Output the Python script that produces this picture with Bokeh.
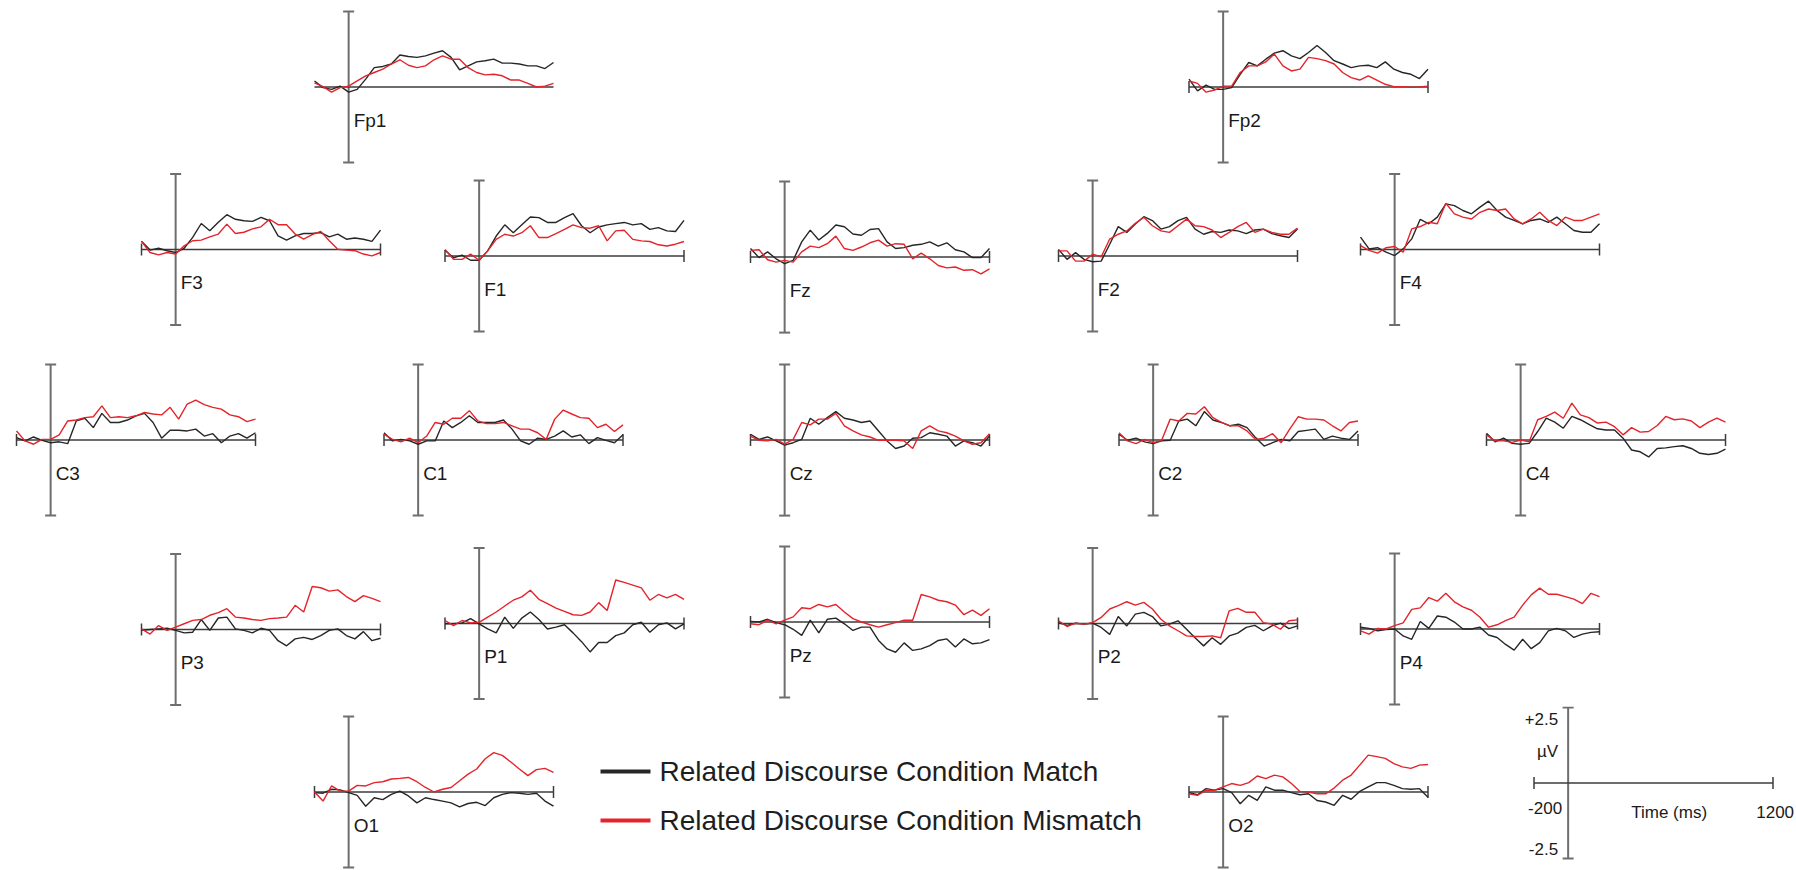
import math
from bokeh.plotting import figure
from bokeh.layouts import row, column
from bokeh.models import Spacer, Range1d
from bokeh.core.properties import value
from bokeh.embed import file_html
from bokeh.resources import INLINE

# ------------------------------------------------------------------ data
times_ms = [-200, -150, -100, -50, 0, 50, 100, 150, 200, 250, 300, 350, 400, 450,
            500, 550, 600, 650, 700, 750, 800, 850, 900, 950, 1000, 1050, 1100, 1150, 1200]

Fp1_match = [0.20, -0.02, -0.08, 0.03, -0.17, -0.08, 0.26, 0.64, 0.68, 0.76, 1.06, 1.01, 0.98, 1.03, 1.12, 1.20, 0.98, 0.57, 0.70, 0.83, 0.87, 0.92, 0.79, 0.79, 0.76, 0.70, 0.70, 0.61, 0.81]
Fp1_mismatch = [0.14, 0.01, -0.17, -0.02, 0.03, 0.20, 0.37, 0.48, 0.59, 0.76, 0.90, 0.72, 0.64, 0.70, 0.90, 1.03, 0.92, 0.92, 0.64, 0.48, 0.40, 0.42, 0.37, 0.23, 0.23, 0.12, 0.00, 0.03, 0.12]
Fp2_match = [0.26, -0.13, 0.06, -0.08, -0.08, -0.02, 0.42, 0.81, 0.70, 0.92, 1.12, 1.20, 1.03, 0.94, 1.14, 1.37, 1.14, 0.87, 0.76, 0.64, 0.70, 0.72, 0.64, 0.83, 0.59, 0.48, 0.42, 0.28, 0.59]
Fp2_mismatch = [0.20, 0.12, -0.17, -0.10, 0.03, 0.03, 0.48, 0.70, 0.70, 0.83, 1.09, 0.70, 0.53, 0.59, 0.98, 0.94, 0.87, 0.76, 0.48, 0.31, 0.23, 0.37, 0.23, 0.09, 0.01, 0.01, -0.01, 0.00, 0.03]
F3_match = [0.27, -0.02, 0.04, -0.04, -0.10, 0.04, 0.40, 0.86, 0.62, 0.90, 1.15, 1.00, 0.95, 0.93, 1.06, 0.95, 0.45, 0.31, 0.45, 0.53, 0.53, 0.56, 0.42, 0.51, 0.34, 0.38, 0.34, 0.27, 0.64]
F3_mismatch = [0.27, -0.10, -0.18, -0.10, -0.15, 0.12, 0.29, 0.31, 0.42, 0.51, 0.84, 0.53, 0.57, 0.68, 0.75, 1.00, 0.82, 0.82, 0.51, 0.34, 0.49, 0.60, 0.29, 0.01, -0.02, -0.04, -0.15, -0.21, -0.10]
F1_match = [0.19, -0.06, 0.03, -0.14, -0.14, 0.17, 0.66, 1.03, 0.77, 1.03, 1.29, 1.27, 1.11, 1.11, 1.27, 1.40, 1.00, 0.77, 0.96, 1.03, 1.07, 1.11, 1.03, 1.07, 0.88, 0.94, 0.83, 0.81, 1.18]
F1_mismatch = [0.22, -0.11, -0.11, 0.06, -0.14, 0.17, 0.55, 0.72, 0.66, 0.77, 1.00, 0.61, 0.61, 0.74, 0.88, 1.03, 0.94, 0.92, 1.00, 0.50, 0.83, 0.85, 0.55, 0.50, 0.48, 0.37, 0.33, 0.39, 0.48]
Fz_match = [0.28, -0.02, 0.17, -0.06, -0.22, -0.11, 0.50, 0.89, 0.56, 0.78, 1.06, 1.00, 0.76, 0.72, 0.91, 0.94, 0.50, 0.28, 0.31, 0.39, 0.42, 0.50, 0.36, 0.47, 0.24, 0.17, -0.02, -0.02, 0.28]
Fz_mismatch = [0.22, 0.24, -0.09, -0.17, -0.11, -0.17, 0.17, 0.36, 0.31, 0.44, 0.69, 0.28, 0.22, 0.33, 0.47, 0.56, 0.36, 0.44, 0.42, -0.06, 0.13, -0.06, -0.28, -0.36, -0.33, -0.44, -0.42, -0.56, -0.39]
F2_match = [0.22, -0.11, 0.11, -0.11, -0.19, -0.17, 0.39, 0.97, 0.78, 1.06, 1.30, 1.17, 0.89, 0.97, 1.17, 1.28, 0.89, 0.72, 0.81, 0.78, 0.86, 0.83, 0.74, 0.86, 0.89, 0.74, 0.67, 0.61, 0.89]
F2_mismatch = [0.17, 0.17, -0.17, -0.17, 0.06, -0.03, 0.56, 0.72, 0.83, 1.08, 1.28, 1.00, 0.83, 0.78, 1.00, 1.22, 1.00, 0.97, 0.86, 0.61, 0.78, 0.97, 1.11, 0.78, 0.89, 0.78, 0.72, 0.72, 0.92]
F4_match = [0.41, 0.02, 0.06, -0.09, -0.20, 0.02, 0.35, 1.00, 0.85, 1.07, 1.51, 1.45, 1.29, 1.18, 1.40, 1.60, 1.29, 1.07, 0.96, 0.85, 0.96, 1.01, 0.90, 1.07, 0.85, 0.63, 0.57, 0.57, 0.85]
F4_mismatch = [0.13, -0.03, -0.12, 0.06, 0.10, -0.09, 0.68, 0.76, 0.90, 0.85, 1.53, 1.18, 1.07, 1.01, 1.23, 1.34, 1.29, 1.34, 1.01, 0.85, 1.01, 1.23, 0.96, 0.79, 1.07, 0.96, 0.96, 1.07, 1.18]
C3_match = [0.08, -0.03, 0.10, -0.01, -0.09, -0.06, -0.12, 0.63, 0.72, 0.41, 0.88, 0.58, 0.58, 0.66, 0.80, 0.88, 0.58, 0.06, 0.32, 0.32, 0.30, 0.36, 0.13, 0.21, -0.09, 0.13, 0.21, 0.06, 0.24]
C3_mismatch = [0.30, -0.03, -0.14, 0.02, 0.02, 0.17, 0.63, 0.66, 0.74, 0.77, 1.13, 0.74, 0.77, 0.74, 0.80, 0.91, 0.86, 0.83, 1.08, 0.69, 1.19, 1.32, 1.17, 1.08, 1.02, 0.83, 0.77, 0.61, 0.69]
C1_match = [0.24, -0.03, 0.02, -0.03, -0.14, -0.03, -0.03, 0.63, 0.41, 0.58, 0.80, 0.58, 0.58, 0.58, 0.66, 0.36, -0.03, -0.14, 0.06, 0.02, 0.13, 0.30, 0.10, 0.17, -0.12, 0.08, -0.01, -0.09, 0.17]
C1_mismatch = [0.19, 0.02, -0.06, 0.06, -0.09, 0.13, 0.58, 0.52, 0.72, 0.72, 0.97, 0.63, 0.54, 0.54, 0.58, 0.47, 0.36, 0.36, 0.24, 0.02, 0.69, 0.99, 0.86, 0.74, 0.72, 0.41, 0.52, 0.28, 0.50]
Cz_match = [0.19, 0.02, 0.10, -0.03, -0.17, -0.09, 0.02, 0.72, 0.52, 0.74, 0.94, 0.72, 0.66, 0.58, 0.63, 0.30, -0.03, -0.28, -0.20, 0.06, 0.08, 0.24, 0.19, 0.13, -0.20, -0.03, -0.09, -0.20, 0.13]
Cz_mismatch = [0.13, -0.01, -0.03, 0.02, -0.14, 0.02, 0.58, 0.50, 0.69, 0.69, 0.88, 0.47, 0.30, 0.17, 0.10, -0.01, -0.01, -0.01, -0.03, -0.28, 0.30, 0.47, 0.30, 0.24, 0.13, -0.03, -0.14, -0.09, 0.21]
C2_match = [0.19, -0.01, 0.06, -0.06, -0.12, -0.03, -0.01, 0.63, 0.69, 0.47, 0.94, 0.66, 0.58, 0.47, 0.52, 0.41, 0.08, -0.20, -0.09, 0.02, -0.03, 0.28, 0.32, 0.36, 0.02, 0.13, 0.06, 0.02, 0.30]
C2_mismatch = [0.24, -0.03, -0.12, 0.02, -0.09, -0.01, 0.69, 0.63, 0.88, 0.86, 1.10, 0.74, 0.58, 0.47, 0.47, 0.30, 0.02, 0.06, 0.21, -0.09, 0.36, 0.77, 0.69, 0.69, 0.66, 0.47, 0.30, 0.58, 0.63]
C4_match = [0.22, -0.06, 0.06, -0.11, -0.14, -0.11, 0.28, 0.72, 0.59, 0.39, 0.78, 0.67, 0.52, 0.37, 0.33, 0.33, 0.06, -0.33, -0.39, -0.56, -0.28, -0.26, -0.22, -0.19, -0.28, -0.44, -0.48, -0.44, -0.30]
C4_mismatch = [0.17, -0.03, -0.03, -0.08, 0.00, -0.06, 0.67, 0.78, 0.92, 0.72, 1.22, 0.83, 0.74, 0.56, 0.59, 0.44, 0.17, 0.41, 0.26, 0.28, 0.48, 0.78, 0.67, 0.70, 0.63, 0.41, 0.59, 0.72, 0.59]
P3_match = [-0.03, 0.00, 0.02, 0.04, -0.03, -0.11, -0.09, 0.33, -0.03, 0.38, 0.41, 0.02, -0.03, -0.11, 0.04, -0.03, -0.37, -0.54, -0.31, -0.26, -0.33, -0.20, -0.03, 0.02, -0.20, -0.31, -0.07, -0.37, -0.29]
P3_mismatch = [0.02, -0.15, 0.13, -0.03, 0.08, 0.19, 0.30, 0.33, 0.47, 0.56, 0.69, 0.41, 0.38, 0.33, 0.30, 0.36, 0.38, 0.41, 0.80, 0.58, 1.42, 1.38, 1.27, 1.31, 1.09, 0.92, 1.12, 1.03, 0.92]
P1_match = [-0.01, -0.01, 0.02, 0.16, -0.01, -0.18, -0.31, 0.21, -0.16, 0.18, 0.38, 0.13, -0.18, -0.12, -0.04, -0.31, -0.60, -0.94, -0.63, -0.63, -0.40, -0.31, -0.04, 0.04, -0.29, -0.04, 0.02, -0.18, -0.01]
P1_mismatch = [0.10, -0.07, 0.10, 0.02, 0.04, 0.21, 0.38, 0.58, 0.77, 0.88, 1.10, 0.80, 0.66, 0.51, 0.40, 0.29, 0.27, 0.38, 0.69, 0.43, 1.44, 1.36, 1.27, 1.18, 0.77, 0.96, 0.85, 0.96, 0.80]
Pz_match = [0.02, 0.00, 0.09, -0.02, -0.09, -0.24, -0.44, 0.06, -0.36, 0.09, 0.13, -0.06, -0.28, -0.17, -0.17, -0.61, -0.89, -1.00, -0.69, -0.94, -0.89, -0.78, -0.61, -0.56, -0.83, -0.56, -0.72, -0.69, -0.58]
Pz_mismatch = [-0.06, -0.09, 0.06, -0.06, 0.06, 0.17, 0.47, 0.44, 0.58, 0.50, 0.58, 0.33, 0.11, 0.00, -0.09, -0.17, -0.09, -0.02, 0.06, 0.06, 0.91, 0.83, 0.72, 0.67, 0.56, 0.24, 0.39, 0.22, 0.44]
P2_match = [0.03, -0.06, 0.01, -0.02, 0.01, -0.13, -0.36, 0.23, -0.08, 0.31, 0.37, 0.23, -0.08, -0.02, 0.09, -0.19, -0.47, -0.74, -0.47, -0.69, -0.41, -0.32, -0.13, -0.06, -0.24, -0.08, 0.01, -0.17, -0.08]
P2_mismatch = [0.09, -0.10, 0.01, -0.02, 0.03, 0.20, 0.48, 0.59, 0.72, 0.61, 0.70, 0.48, 0.14, -0.08, -0.24, -0.41, -0.43, -0.43, -0.41, -0.47, 0.42, 0.50, 0.37, 0.37, 0.03, -0.02, -0.19, 0.09, 0.12]
P4_match = [0.06, 0.02, -0.06, -0.02, 0.00, -0.23, -0.34, 0.25, 0.02, 0.43, 0.39, 0.23, 0.00, 0.00, 0.06, -0.20, -0.28, -0.51, -0.70, -0.34, -0.65, -0.45, -0.06, 0.02, -0.06, -0.28, -0.17, -0.11, -0.09]
P4_mismatch = [-0.06, -0.17, 0.02, 0.00, 0.11, 0.20, 0.65, 0.70, 1.04, 0.92, 1.18, 0.90, 0.73, 0.62, 0.39, 0.06, 0.14, 0.28, 0.39, 0.79, 1.13, 1.35, 1.15, 1.15, 1.07, 0.99, 0.84, 1.18, 1.07]
O1_match = [-0.02, -0.04, 0.09, 0.07, -0.02, -0.11, -0.47, -0.19, -0.25, -0.08, 0.03, -0.13, -0.36, -0.19, -0.25, -0.30, -0.36, -0.49, -0.38, -0.34, -0.45, -0.19, -0.08, -0.02, -0.04, -0.08, -0.04, -0.30, -0.47]
O1_mismatch = [0.00, -0.30, 0.20, 0.03, 0.03, 0.22, 0.20, 0.31, 0.34, 0.43, 0.45, 0.48, 0.34, 0.15, 0.00, 0.09, 0.15, 0.37, 0.59, 0.76, 1.10, 1.30, 1.21, 0.99, 0.76, 0.54, 0.74, 0.78, 0.65]
O2_match = [-0.02, -0.09, 0.11, 0.06, 0.11, -0.02, -0.39, -0.11, -0.28, 0.17, 0.06, 0.06, -0.02, -0.09, -0.06, -0.28, -0.33, -0.44, -0.11, -0.24, 0.02, 0.17, 0.31, 0.31, 0.22, 0.11, 0.09, 0.11, -0.17]
O2_mismatch = [-0.06, -0.11, 0.06, 0.06, 0.17, 0.28, 0.22, 0.31, 0.53, 0.44, 0.56, 0.50, 0.28, 0.02, 0.00, -0.06, -0.06, 0.13, 0.39, 0.56, 0.89, 1.22, 1.17, 1.11, 0.94, 0.83, 0.78, 0.89, 0.91]

electrode_names = ["Fp1", "Fp2", "F3", "F1", "Fz", "F2", "F4", "C3", "C1", "Cz", "C2", "C4",
                   "P3", "P1", "Pz", "P2", "P4", "O1", "O2"]
match_series = {"Fp1": Fp1_match, "Fp2": Fp2_match, "F3": F3_match, "F1": F1_match, "Fz": Fz_match,
                "F2": F2_match, "F4": F4_match, "C3": C3_match, "C1": C1_match, "Cz": Cz_match,
                "C2": C2_match, "C4": C4_match, "P3": P3_match, "P1": P1_match, "Pz": Pz_match,
                "P2": P2_match, "P4": P4_match, "O1": O1_match, "O2": O2_match}
mismatch_series = {"Fp1": Fp1_mismatch, "Fp2": Fp2_mismatch, "F3": F3_mismatch, "F1": F1_mismatch,
                   "Fz": Fz_mismatch, "F2": F2_mismatch, "F4": F4_mismatch, "C3": C3_mismatch,
                   "C1": C1_mismatch, "Cz": Cz_mismatch, "C2": C2_mismatch, "C4": C4_mismatch,
                   "P3": P3_mismatch, "P1": P1_mismatch, "Pz": Pz_mismatch, "P2": P2_mismatch,
                   "P4": P4_mismatch, "O1": O1_mismatch, "O2": O2_mismatch}

condition_labels = ["Related Discourse Condition Match", "Related Discourse Condition Mismatch"]
scale_labels = ["+2.5", "\u00b5V", "-200", "Time (ms)", "1200", "-2.5"]
T_MIN, T_MAX, V_LIM = -200, 1200, 2.5

# ------------------------------------------------------------------ layout / style
PAGE_W, PAGE_H = 1796, 870
PX_PER_MS = 239.0 / 1400.0
PX_PER_UV = 75.6 / 2.5
PAD = 8
PANEL_W = 255
ROW_BANDS = [(0, 168), (168, 345), (345, 530), (530, 706), (706, 870)]
# name: (row, left edge of time axis in px, baseline y in px)
PANEL_POS = {
    "Fp1": (0, 314.0, 86.5), "Fp2": (0, 1188.5, 86.5),
    "F3": (1, 141.0, 249.0), "F1": (1, 444.5, 255.5), "Fz": (1, 750.0, 256.5),
    "F2": (1, 1058.0, 255.5), "F4": (1, 1360.0, 249.0),
    "C3": (2, 16.0, 439.5), "C1": (2, 383.5, 439.5), "Cz": (2, 750.0, 439.5),
    "C2": (2, 1118.5, 439.5), "C4": (2, 1486.0, 439.5),
    "P3": (3, 141.0, 629.0), "P1": (3, 444.5, 623.0), "Pz": (3, 750.0, 621.5),
    "P2": (3, 1058.0, 623.0), "P4": (3, 1360.0, 628.5),
    "O1": (4, 314.0, 791.5), "O2": (4, 1188.5, 791.5),
}
SCALE_POS = (4, 1533.5, 782.5)

BLACK = "#262626"
RED = "#e3242b"
AXV = "#6e6e6e"
AXH = "#3c3c3c"
FONT = "Liberation Sans"


def base_fig(fig_left, figw, left_px, center_px, band):
    top, bottom = band
    off = left_px - fig_left
    x0 = T_MIN - off / PX_PER_MS
    x1 = x0 + figw / PX_PER_MS
    p = figure(width=figw, height=bottom - top,
               x_range=Range1d(x0, x1),
               y_range=Range1d(-(bottom - center_px) / PX_PER_UV, (center_px - top) / PX_PER_UV),
               x_axis_type=None, y_axis_type=None, toolbar_location=None,
               output_backend="svg", min_border=0, outline_line_color=None,
               background_fill_color="white", border_fill_color="white")
    return p


def draw_frame(p, end_ticks=True):
    cap = 5.5 / PX_PER_MS
    tick = 6.0 / PX_PER_UV
    p.segment(x0=[0, -cap, -cap], y0=[-V_LIM, V_LIM, -V_LIM],
              x1=[0, cap, cap], y1=[V_LIM, V_LIM, -V_LIM],
              line_color=AXV, line_width=2)
    p.segment(x0=[T_MIN], y0=[0], x1=[T_MAX], y1=[0], line_color=AXH, line_width=1.5)
    if end_ticks:
        p.segment(x0=[T_MIN, T_MAX], y0=[-tick, -tick], x1=[T_MIN, T_MAX], y1=[tick, tick],
                  line_color=AXH, line_width=1.5)


def electrode_panel(name, fig_left):
    r, left_px, center_px = PANEL_POS[name]
    p = base_fig(fig_left, PANEL_W, left_px, center_px, ROW_BANDS[r])
    draw_frame(p, end_ticks=(name != "Fp1"))
    p.line(x=times_ms, y=match_series[name], line_color=BLACK, line_width=1.4)
    p.line(x=times_ms, y=mismatch_series[name], line_color=RED, line_width=1.4)
    p.text(x=[5.0 / PX_PER_MS], y=[-33.0 / PX_PER_UV], text=[name],
           text_font=value(FONT), text_font_size=value("19px"),
           text_baseline="middle", text_align="left", text_color="#1a1a1a")
    return p


def scale_panel(fig_left, figw):
    r, left_px, center_px = SCALE_POS
    p = base_fig(fig_left, figw, left_px, center_px, ROW_BANDS[r])
    draw_frame(p, end_ticks=True)
    # offsets in px from (t=0, baseline)
    dx = [-10, -10, -6, 101, 207, -10]
    dy = [64, 32, -25, -29, -29, -66]
    align = ["right", "right", "right", "center", "center", "right"]
    for lab, ddx, ddy, al in zip(scale_labels, dx, dy, align):
        p.text(x=[ddx / PX_PER_MS], y=[ddy / PX_PER_UV], text=[lab],
               text_font=value(FONT), text_font_size=value("17px"),
               text_baseline="middle", text_align=al, text_color="#1a1a1a")
    return p


def legend_fig(fig_left, figw, band):
    top, bottom = band
    p = figure(width=figw, height=bottom - top,
               x_range=Range1d(fig_left, fig_left + figw), y_range=Range1d(bottom, top),
               x_axis_type=None, y_axis_type=None, toolbar_location=None,
               output_backend="svg", min_border=0, outline_line_color=None,
               background_fill_color="white", border_fill_color="white")
    ys = [771, 820]
    cols = [BLACK, RED]
    p.segment(x0=[600, 600], y0=ys, x1=[650, 650], y1=ys, line_color=cols, line_width=4)
    p.text(x=[659, 659], y=ys, text=condition_labels, text_font=value(FONT),
           text_font_size=value("28px"), text_baseline="middle", text_align="left",
           text_color="#1e1e1e")
    return p


rows = []
for ri, band in enumerate(ROW_BANDS):
    h = band[1] - band[0]
    items = []
    for name in electrode_names:
        if PANEL_POS[name][0] == ri:
            items.append(("panel", name, int(PANEL_POS[name][1] - PAD)))
    items.sort(key=lambda it: it[2])
    children = []
    cur = 0
    for kind, name, fl in items:
        if fl > cur:
            children.append(Spacer(width=fl - cur, height=h))
            cur = fl
        children.append(electrode_panel(name, cur))
        cur += PANEL_W
        if ri == 4 and name == "O1":
            nxt = int(PANEL_POS["O2"][1] - PAD)
            children.append(legend_fig(cur, nxt - cur, band))
            cur = nxt
    if ri == SCALE_POS[0]:
        fl = int(SCALE_POS[1] - PAD)
        if fl > cur:
            children.append(Spacer(width=fl - cur, height=h))
            cur = fl
        children.append(scale_panel(cur, PAGE_W - cur))
        cur = PAGE_W
    if cur < PAGE_W:
        children.append(Spacer(width=PAGE_W - cur, height=h))
    rows.append(row(*children, spacing=0))

layout = column(*rows, spacing=0)

open("out.html", "w").write(file_html(layout, INLINE))
